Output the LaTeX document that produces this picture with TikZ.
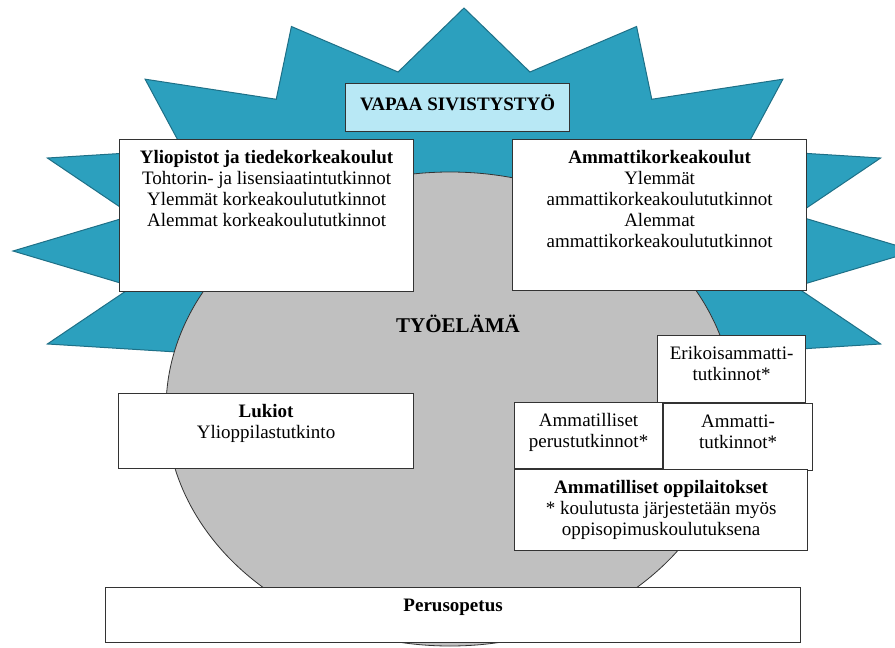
\documentclass[tikz,border=0pt]{standalone}
\usepackage{fontspec}
\setmainfont{Liberation Serif}
\definecolor{starblue}{RGB}{44,160,190}
\definecolor{starline}{RGB}{30,112,135}
\definecolor{lightcyan}{RGB}{184,232,245}
\definecolor{worldgray}{RGB}{192,192,192}
\newcommand{\boxtext}[3]{\parbox[c][#2][t]{#1}{\centering\vspace*{11pt}#3}}

\begin{document}
\begin{tikzpicture}[x=1pt, y=-1pt,
  every node/.style={font=\fontsize{19}{21}\selectfont, inner sep=0pt},
  box/.style={draw=black!80, line width=1.2pt, fill=white, anchor=north west}]
\clip (0,0) rectangle (895,648);
% star and the grey world behind the boxes
\begin{scope}
\clip (0,0) rectangle (895,355);
\begin{scope}[shift={(464,251)}]
\filldraw[fill=starblue, draw=starline, line width=1pt] (90:451 and 243)
  \foreach \k in {0,...,15} { -- (101.25+\k*22.5:338 and 182.5) -- (112.5+\k*22.5:451 and 243) } -- cycle;
\end{scope}
\end{scope}
\filldraw[fill=worldgray, draw=black!80, line width=0.8pt] (450,409) ellipse [x radius=284, y radius=237];

\node[box, fill=lightcyan] at (345,83) (vapaa) {\boxtext{224pt}{48pt}{\textbf{VAPAA SIVISTYSTYÖ}}};
\node[box] at (119,139) (yliopistot) {\boxtext{294pt}{152pt}{\textbf{Yliopistot ja tiedekorkeakoulut}\\Tohtorin- ja lisensiaatintutkinnot\\Ylemmät korkeakoulututkinnot\\Alemmat korkeakoulututkinnot}};
\node[box] at (512,139) (amk) {\boxtext{294pt}{151pt}{\textbf{Ammattikorkeakoulut}\\Ylemmät\\ammattikorkeakoulututkinnot\\Alemmat\\ammattikorkeakoulututkinnot}};
\node[font=\fontsize{21}{24}\selectfont\bfseries] at (458,324) (tyoelama) {TYÖELÄMÄ};
\node[box] at (657,335) (erikois) {\boxtext{148pt}{67pt}{Erikoisammatti-\\tutkinnot*}};
\node[box] at (118,393) (lukiot) {\boxtext{295pt}{75pt}{\textbf{Lukiot}\\Ylioppilastutkinto}};
\node[box] at (514,402) (perustutk) {\boxtext{148pt}{66pt}{Ammatilliset\\perustutkinnot*}};
\node[box] at (663,403) (ammattitutk) {\boxtext{149pt}{67pt}{Ammatti-\\tutkinnot*}};
\node[box] at (514,469) (oppilaitokset) {\boxtext{293pt}{81pt}{\textbf{Ammatilliset oppilaitokset}\\{}* koulutusta järjestetään myös\\oppisopimuskoulutuksena}};
\node[box] at (105,587) (perusopetus) {\boxtext{695pt}{55pt}{\textbf{Perusopetus}}};
\end{tikzpicture}
\end{document}
